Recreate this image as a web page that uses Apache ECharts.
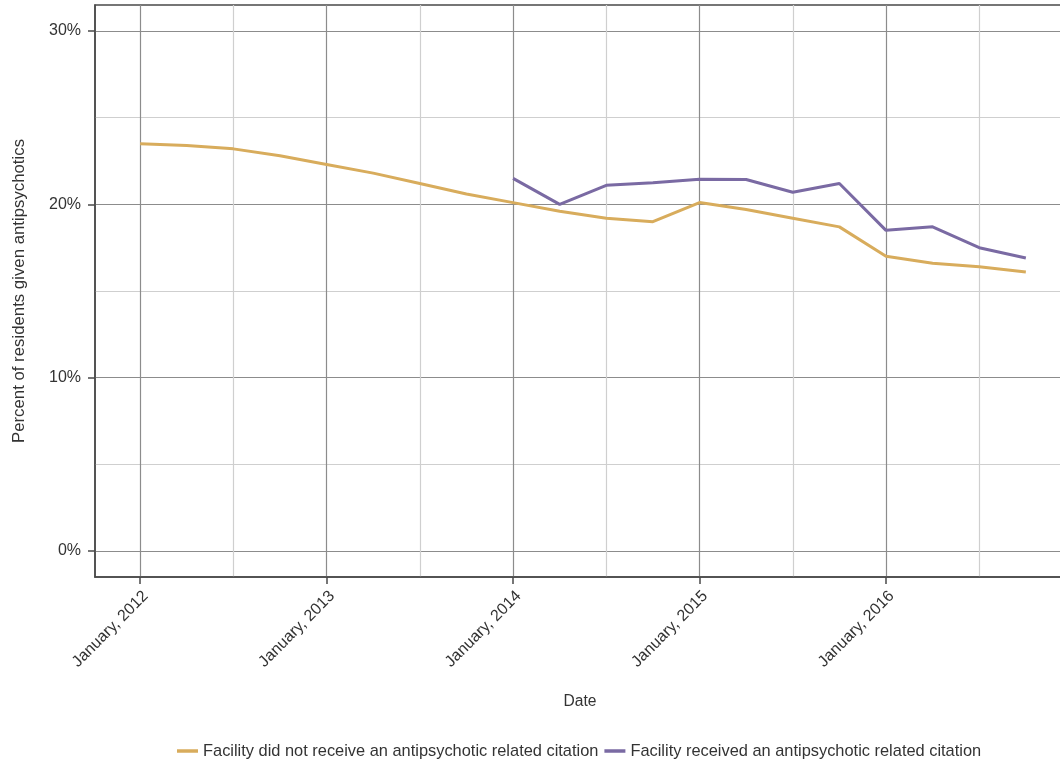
<!DOCTYPE html>
<html>
<head>
<meta charset="utf-8">
<script src="https://cdn.jsdelivr.net/npm/echarts@6/dist/echarts.min.js"></script>
<style>
html,body{margin:0;padding:0;background:#fff;}
#chart{width:1060px;height:763px;}
</style>
</head>
<body>
<div id="chart"></div>
<script>
// Quarterly dates
const dates = ['2012-01','2012-04','2012-07','2012-10','2013-01','2013-04','2013-07','2013-10',
               '2014-01','2014-04','2014-07','2014-10','2015-01','2015-04','2015-07','2015-10',
               '2016-01','2016-04','2016-07','2016-10'];
// Facility did not receive an antipsychotic related citation (%)
const noCitation = [23.5,23.4,23.2,22.8,22.3,21.8,21.2,20.6,
                    20.1,19.6,19.2,19.0,20.1,19.7,19.2,18.7,
                    17.0,16.6,16.4,16.1];
// Facility received an antipsychotic related citation (%)
const citation = [null,null,null,null,null,null,null,null,
                  21.5,20.0,21.1,21.25,21.45,21.43,20.7,21.2,
                  18.5,18.7,17.5,16.9];
const yearTicks = [2012,2013,2014,2015,2016];
const midYearTicks = [2012.5,2013.5,2014.5,2015.5,2016.5];
const yMajorTicks = [0,10,20,30];
const yMinorTicks = [5,15,25];
const seriesNames = ['Facility did not receive an antipsychotic related citation',
                     'Facility received an antipsychotic related citation'];

function toYear(s){ const p = s.split('-'); return +p[0] + (+p[1]-1)/12; }
function pairs(vals){
  const out = [];
  dates.forEach((d,i)=>{ if (vals[i] != null) out.push([toYear(d), vals[i]]); });
  return out;
}

const font = '"Liberation Sans", Arial, sans-serif';
const chart = echarts.init(document.getElementById('chart'));
const xMin = 2011.758, xMax = 2016.96, yMin = -1.5, yMax = 31.5;

chart.setOption({
  animation:false,
  textStyle:{fontFamily:font},
  grid:{left:95, right:-5, top:5, bottom:186, outerBoundsMode:'none', containLabel:false,
        show:true, borderColor:'#4a4a4a', borderWidth:1.5, backgroundColor:'transparent'},
  legend:{
    left:177, top:743, padding:0, icon:'rect', itemWidth:21, itemHeight:3.5, itemGap:6,
    data:seriesNames,
    textStyle:{fontSize:16.4, color:'#333', fontFamily:font}
  },
  xAxis:[{
    type:'value', min:xMin, max:xMax,
    name:'Date', nameLocation:'middle', nameGap:117,
    nameTextStyle:{fontSize:15.6, color:'#333', fontFamily:font},
    axisLine:{show:true, onZero:false, lineStyle:{color:'#4a4a4a', width:1.5}},
    axisTick:{show:true, length:7, customValues:yearTicks, lineStyle:{color:'#4a4a4a', width:1.5}},
    axisLabel:{customValues:yearTicks, rotate:45, margin:11, verticalAlign:'top', fontSize:16, color:'#333', fontFamily:font,
      formatter:v=>'January, ' + Math.round(v)},
    splitLine:{show:true, lineStyle:{color:'#8c8c8c', width:1.2}}
  },{
    type:'value', min:xMin, max:xMax, position:'bottom',
    axisLine:{show:false}, axisLabel:{show:false},
    axisTick:{show:false, customValues:midYearTicks},
    splitLine:{show:true, lineStyle:{color:'#cfcfcf', width:1.2}}
  }],
  yAxis:[{
    type:'value', min:yMin, max:yMax,
    name:'Percent of residents given antipsychotics', nameLocation:'middle', nameGap:67,
    nameTextStyle:{fontSize:16.8, color:'#333', fontFamily:font},
    axisLine:{show:true, onZero:false, lineStyle:{color:'#4a4a4a', width:1.5}},
    axisTick:{show:true, length:7, customValues:yMajorTicks, lineStyle:{color:'#4a4a4a', width:1.5}},
    axisLabel:{customValues:yMajorTicks, margin:14, fontSize:16, color:'#333', fontFamily:font,
      formatter:v=>Math.round(v)+'%'},
    splitLine:{show:true, lineStyle:{color:'#8c8c8c', width:1.2}}
  },{
    type:'value', min:yMin, max:yMax, position:'left',
    axisLine:{show:false}, axisLabel:{show:false},
    axisTick:{show:false, customValues:yMinorTicks},
    splitLine:{show:true, lineStyle:{color:'#cfcfcf', width:1.2}}
  }],
  series:[{
    name:seriesNames[0], type:'line', xAxisIndex:0, yAxisIndex:0,
    data:pairs(noCitation), symbol:'none', smooth:false,
    lineStyle:{color:'#d8ac5c', width:3}, itemStyle:{color:'#d8ac5c'}
  },{
    name:seriesNames[1], type:'line', xAxisIndex:0, yAxisIndex:0,
    data:pairs(citation), symbol:'none', smooth:false,
    lineStyle:{color:'#7a6aa3', width:3}, itemStyle:{color:'#7a6aa3'}
  }]
});
</script>
</body>
</html>
